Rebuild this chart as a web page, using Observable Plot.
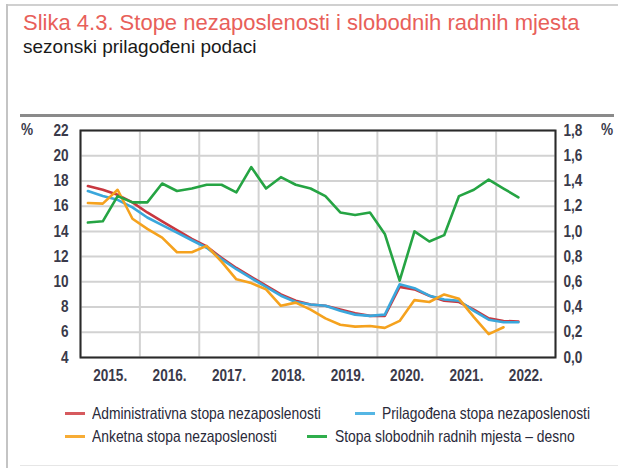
<!DOCTYPE html>
<html>
<head>
<meta charset="utf-8">
<script src="https://cdn.jsdelivr.net/npm/d3@7"></script>
<script src="https://cdn.jsdelivr.net/npm/@observablehq/plot@0.6"></script>
<style>
  html, body { margin: 0; padding: 0; background: #fff; }
  #page { position: relative; width: 618px; height: 468px; overflow: hidden; background: #fff; font-family: "Liberation Sans", Arial, sans-serif; }
  .bord-top { position: absolute; left: 6px; top: 4px; width: 620px; height: 2px; background: #d0d0d0; }
  .bord-left { position: absolute; left: 6px; top: 4px; width: 2px; height: 470px; background: #c4c4c4; }
  .bord-bot { position: absolute; left: 20px; top: 465px; width: 600px; height: 1px; background: #e6e6e6; }
  .rule { position: absolute; left: 20px; top: 114px; width: 594px; height: 3px; background: #8a8a8a; }
  #title { position: absolute; left: 23px; top: 10px; font-size: 22px; color: #e8605a; white-space: nowrap; }
  #subtitle { position: absolute; left: 23px; top: 36px; font-size: 19px; color: #1a1a1a; white-space: nowrap; }
  #chart { position: absolute; left: 0; top: 118px; }
  .pct { position: absolute; top: 121px; font-size: 16px; color: #3a3a4a; font-weight: bold; transform: scaleX(0.85); transform-origin: left center; }
  .lsw { position: absolute; width: 20px; height: 3px; }
  .ltx { position: absolute; font-size: 16.5px; color: #2a2a3a; white-space: nowrap; transform: scaleX(0.84); transform-origin: left center; line-height: 20px; }
</style>
</head>
<body>
<div id="page">
  <div class="bord-top"></div>
  <div class="bord-left"></div>
  <div class="bord-bot"></div>
  <div id="title">Slika 4.3. Stope nezaposlenosti i slobodnih radnih mjesta</div>
  <div id="subtitle">sezonski prilagođeni podaci</div>
  <div class="rule"></div>
  <div id="chart"></div>
  <div class="pct" style="left:21px;">%</div>
  <div class="pct" style="left:601px;">%</div>
  <div id="legend"></div>
</div>
<script>
// Quarterly observations
const quarters = [
  "2015Q1","2015Q2","2015Q3","2015Q4",
  "2016Q1","2016Q2","2016Q3","2016Q4",
  "2017Q1","2017Q2","2017Q3","2017Q4",
  "2018Q1","2018Q2","2018Q3","2018Q4",
  "2019Q1","2019Q2","2019Q3","2019Q4",
  "2020Q1","2020Q2","2020Q3","2020Q4",
  "2021Q1","2021Q2","2021Q3","2021Q4",
  "2022Q1","2022Q2"
];
// Administrativna stopa nezaposlenosti (%)
const administrativna = [
  17.6, 17.3, 16.9, 16.3,
  15.5, 14.8, 14.1, 13.4,
  12.8, 11.9, 11.1, 10.4,
  9.7, 9.0, 8.5, 8.2,
  8.1, 7.8, 7.5, 7.3,
  7.3, 9.6, 9.4, 8.9,
  8.5, 8.4, 7.8, 7.1,
  6.9, 6.85
];
// Prilagođena stopa nezaposlenosti (%)
const prilagodjena = [
  17.2, 16.8, 16.5, 15.9,
  15.1, 14.5, 13.9, 13.3,
  12.7, 11.8, 11.0, 10.3,
  9.6, 8.9, 8.4, 8.2,
  8.1, 7.7, 7.4, 7.3,
  7.4, 9.8, 9.5, 8.9,
  8.6, 8.5, 7.7, 7.0,
  6.8, 6.8
];
// Anketna stopa nezaposlenosti (%), ends 2022Q1
const anketna = [
  16.25, 16.2, 17.3, 15.0,
  14.2, 13.5, 12.35, 12.35,
  12.85, 11.6, 10.2, 9.9,
  9.4, 8.1, 8.35, 7.8,
  7.1, 6.6, 6.45, 6.5,
  6.35, 6.9, 8.55, 8.4,
  9.0, 8.65, 7.2, 5.85,
  6.4
];
// Stopa slobodnih radnih mjesta (%), right axis
const slobodna = [
  1.07, 1.08, 1.28, 1.23,
  1.23, 1.38, 1.32, 1.34,
  1.37, 1.37, 1.31, 1.51,
  1.34, 1.43, 1.37, 1.34,
  1.28, 1.15, 1.13, 1.15,
  0.98, 0.61, 1.00, 0.92,
  0.97, 1.28, 1.33, 1.41,
  1.34, 1.27
];
const years = [2015, 2016, 2017, 2018, 2019, 2020, 2021, 2022];
const yearLabels = ["2015.", "2016.", "2017.", "2018.", "2019.", "2020.", "2021.", "2022."];
const leftTicks = [4, 6, 8, 10, 12, 14, 16, 18, 20, 22];
const rightTickLabels = ["0,0", "0,2", "0,4", "0,6", "0,8", "1,0", "1,2", "1,4", "1,6", "1,8"];

const seriesNames = [
  "Administrativna stopa nezaposlenosti",
  "Prilagođena stopa nezaposlenosti",
  "Anketna stopa nezaposlenosti",
  "Stopa slobodnih radnih mjesta – desno"
];
const seriesColors = ["#c8373f", "#3aa7dc", "#f5a21e", "#25a443"];
const legendSwatchColors = ["#d65a5e", "#55b6e4", "#f7ac35", "#2fae4c"];

// right axis (0..1.8) mapped onto left scale (4..22)
const toLeft = v => 4 + v * 10;
const qx = q => +q.slice(0, 4) + (+q.slice(5) - 0.5) / 4;

function rows(values, transform = v => v) {
  return values.map((v, i) => ({x: qx(quarters[i]), y: transform(v)}));
}

const gridYears = years.concat([years[years.length - 1] + 1]);
const mids = years.map(y => y + 0.5);

const W = 618, H = 275;
const chart = Plot.plot({
  width: W, height: H,
  marginTop: 12, marginBottom: 36, marginLeft: 80, marginRight: 63,
  style: {fontFamily: "'Liberation Sans', Arial, sans-serif", fontSize: "16px", color: "#3a3a4a", background: "transparent"},
  x: {domain: [2015, 2023]},
  y: {domain: [4, 22]},
  marks: [
    Plot.ruleX(gridYears, {stroke: "#d2d2d2", strokeWidth: 2}),
    Plot.ruleY(leftTicks, {stroke: "#d2d2d2", strokeWidth: 2}),
    Plot.line(rows(administrativna), {x: "x", y: "y", stroke: seriesColors[0], strokeWidth: 2.6}),
    Plot.line(rows(prilagodjena), {x: "x", y: "y", stroke: seriesColors[1], strokeWidth: 2.6}),
    Plot.line(rows(anketna), {x: "x", y: "y", stroke: seriesColors[2], strokeWidth: 2.6}),
    Plot.line(rows(slobodna, toLeft), {x: "x", y: "y", stroke: seriesColors[3], strokeWidth: 2.6}),
    Plot.frame({stroke: "#2a2a2a", strokeWidth: 2}),
    Plot.axisY({anchor: "left", ticks: leftTicks, tickSize: 0, tickPadding: 12, label: null, fontWeight: "bold", fontSize: 16}),
    Plot.axisY({anchor: "right", ticks: leftTicks, tickSize: 0, tickPadding: 8, label: null, fontWeight: "bold", fontSize: 16,
      tickFormat: d => rightTickLabels[leftTicks.indexOf(d)]}),
    Plot.axisX({ticks: mids, tickSize: 0, tickPadding: 12, label: null, fontWeight: "bold", fontSize: 16,
      tickFormat: d => yearLabels[years.indexOf(d - 0.5)]})
  ]
});
// condense tick label glyphs horizontally (narrow typeface look)
chart.querySelectorAll("g[aria-label$='tick label'] text").forEach(t => {
  const tr = t.getAttribute("transform") || "";
  t.setAttribute("transform", tr + " scale(0.85,1)");
});
document.getElementById("chart").appendChild(chart);

// legend (absolute positions)
const page = document.getElementById("page");
const legendPos = [
  {sx: 65, tx: 92, y: 413},
  {sx: 355, tx: 382, y: 413},
  {sx: 65, tx: 92, y: 436},
  {sx: 307, tx: 335, y: 436}
];
seriesNames.forEach((name, i) => {
  const p = legendPos[i];
  const sw = document.createElement("div");
  sw.className = "lsw";
  sw.style.left = p.sx + "px";
  sw.style.top = (p.y - 1.5) + "px";
  sw.style.background = legendSwatchColors[i];
  const t = document.createElement("div");
  t.className = "ltx";
  t.style.left = p.tx + "px";
  t.style.top = (p.y - 10) + "px";
  t.textContent = name;
  page.appendChild(sw); page.appendChild(t);
});
</script>
</body>
</html>
